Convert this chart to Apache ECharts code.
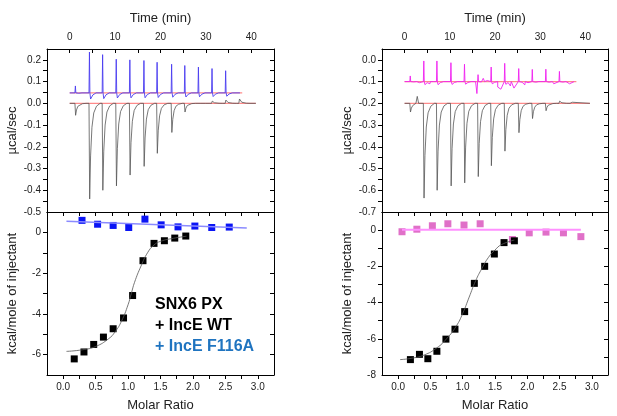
<!DOCTYPE html>
<html>
<head>
<meta charset="utf-8">
<script src="https://cdn.jsdelivr.net/npm/echarts@6/dist/echarts.min.js"></script>
<style>
  html, body { margin: 0; padding: 0; background: #fff; }
  #chart { width: 617px; height: 416px; }
</style>
</head>
<body>
<div id="chart"></div>
<script>
// ---- tick labels ----
const timeTicks = [0, 10, 20, 30, 40]
const timeMinor = [0, 5, 10, 15, 20, 25, 30, 35, 40]
const ratioTicks = [0, 0.5, 1, 1.5, 2, 2.5, 3]
const ratioMinor = [0, 0.25, 0.5, 0.75, 1, 1.25, 1.5, 1.75, 2, 2.25, 2.5, 2.75, 3]
const rawTicksL = [-0.5, -0.4, -0.3, -0.2, -0.1, 0, 0.1, 0.2]
const rawMinorL = [-0.45, -0.4, -0.35, -0.3, -0.25, -0.2, -0.15, -0.1, -0.05, 0, 0.05, 0.1, 0.15, 0.2]
const rawTicksR = [-0.7, -0.6, -0.5, -0.4, -0.3, -0.2, -0.1, 0]
const rawMinorR = [-0.65, -0.6, -0.55, -0.5, -0.45, -0.4, -0.35, -0.3, -0.25, -0.2, -0.15, -0.1, -0.05, 0]
const heatTicksL = [-6, -4, -2, 0]
const heatMinorL = [-6, -5, -4, -3, -2, -1, 0]
const heatTicksR = [-8, -6, -4, -2, 0]
const heatMinorR = [-7, -6, -5, -4, -3, -2, -1, 0]

// ---- left: raw thermograms (injection time, peak µcal/sec) ----
const injTimesL = [1.2, 4.3, 7.2, 10.2, 13.2, 16.3, 19.2, 22.4, 25.3, 28.3, 31.3, 34.3, 37.3]
const wtPeaksL = [-0.055, -0.44, -0.40, -0.38, -0.33, -0.29, -0.23, -0.134, -0.04, 0.0, 0.01, 0.015, 0.02]
const mutPeaksL = [0.08, 0.236, 0.224, 0.203, 0.2, 0.197, 0.189, 0.18, 0.174, 0.167, 0.16, 0.15]
const wtBaseL = 0
const mutBaseL = 0.048

// ---- right: raw thermograms ----
const injTimesR = [1.2, 4.2, 7.1, 10.2, 13.2, 16.2, 19.1, 22.1, 25.2, 28.2, 31.2, 34.2]
const wtPeaksR = [-0.24, -0.636, -0.6, -0.58, -0.566, -0.537, -0.487, -0.42, -0.335, -0.27, -0.234, -0.19]
const mutPeaksR = [-0.074, -0.005, -0.005, -0.013, -0.02, -0.068, -0.033, -0.016, -0.04, -0.044, -0.043, -0.053]
const wtBaseR = -0.2
const mutBaseR = -0.1
const wtBumpsR = [[2.5, -0.2], [2.8, -0.168], [3.1, -0.2], [36.9, -0.2], [37.1, -0.195], [37.4, -0.2]]
const mutWobbleR = [[2.4, -0.11], [3.3, -0.105], [5.6, -0.11], [6.4, -0.1], [15.7, -0.1], [16.0, -0.155],
  [17.4, -0.085], [18.3, -0.095], [20.6, -0.125], [21.3, -0.135], [23.4, -0.12], [24.2, -0.13],
  [26.6, -0.115], [27.3, -0.105], [33.0, -0.11], [36.5, -0.11]]

// ---- integrated heats (molar ratio, kcal/mol) ----
const wtRatioL = [0.17, 0.32, 0.47, 0.62, 0.77, 0.93, 1.07, 1.23, 1.40, 1.56, 1.72, 1.89]
const wtHeatL = [-6.21, -5.87, -5.5, -5.14, -4.73, -4.2, -3.1, -1.39, -0.54, -0.41, -0.28, -0.18]
const mutRatioL = [0.29, 0.53, 0.77, 1.01, 1.26, 1.51, 1.77, 2.03, 2.29, 2.56]
const mutHeatL = [0.59, 0.40, 0.34, 0.24, 0.65, 0.37, 0.27, 0.31, 0.24, 0.26]
const wtFitL = [[0.05, -5.84], [0.3, -5.76], [0.5, -5.6], [0.7, -5.22], [0.8, -4.88], [0.9, -4.35],
  [1.0, -3.55], [1.05, -3.0], [1.1, -2.45], [1.2, -1.65], [1.3, -1.0], [1.4, -0.62], [1.5, -0.44],
  [1.7, -0.29], [1.9, -0.19]]
const mutFitL = [[0.05, 0.54], [2.83, 0.22]]

const wtRatioR = [0.19, 0.33, 0.46, 0.6, 0.74, 0.88, 1.03, 1.18, 1.34, 1.49, 1.64, 1.80]
const wtHeatR = [-7.15, -6.86, -7.1, -6.69, -6.02, -5.47, -4.5, -2.94, -2.0, -1.32, -0.69, -0.59]
const mutRatioR = [0.06, 0.29, 0.53, 0.77, 1.02, 1.27, 1.77, 2.03, 2.29, 2.56, 2.83]
const mutHeatR = [-0.09, 0.05, 0.24, 0.35, 0.28, 0.35, -0.52, -0.15, -0.11, -0.15, -0.36]
const wtFitR = [[0.03, -7.15], [0.2, -7.08], [0.4, -6.9], [0.6, -6.5], [0.75, -6.0], [0.9, -5.3],
  [1.0, -4.6], [1.1, -3.7], [1.2, -2.8], [1.3, -2.1], [1.4, -1.5], [1.5, -1.1], [1.6, -0.8], [1.8, -0.55]]
const mutFitR = [[0.06, 0.02], [2.83, 0.02]]

// spike outline, relative time and fraction of peak height
const dipShape = [[-0.05, 0], [0.1, 1], [0.3, 0.55], [0.6, 0.25], [1.0, 0.1], [1.6, 0.03], [2.4, 0]]
const spikeShape = [[-0.05, 0], [0.05, 1], [0.15, 0], [0.3, -0.15], [0.8, -0.05], [1.5, 0]]

function trace(start, end, base, times, peaks, shape, extra) {
  const pts = [[start, base]]
  times.forEach((t, i) => {
    shape.forEach(([dt, f]) => pts.push([t + dt, base + (peaks[i] - base) * f]))
  })
  if (extra) extra.forEach(p => pts.push(p))
  pts.push([end, base])
  return pts.sort((a, b) => a[0] - b[0])
}

const font = 'Liberation Sans'
const txt = '#222'
const axisLine = { show: true, onZero: false, lineStyle: { color: '#000', width: 1 } }

function mainX(grid, pos, min, max, labels, ticks, fmt, name, gap, inside) {
  return {
    type: 'value', gridIndex: grid, position: pos, min, max,
    name, nameLocation: 'middle', nameGap: gap,
    nameTextStyle: { fontFamily: font, fontSize: 13, color: txt },
    axisLine,
    axisTick: { customValues: ticks, inside: !!inside, length: 4, lineStyle: { color: '#000' } },
    axisLabel: { customValues: labels, formatter: fmt, fontFamily: font, fontSize: 10, color: txt, margin: 7 },
    splitLine: { show: false }
  }
}
function mirrorX(grid, pos, min, max, ticks) {
  return {
    type: 'value', gridIndex: grid, position: pos, min, max,
    axisLine,
    axisTick: { show: !!ticks, customValues: ticks || [], inside: true, length: 4, lineStyle: { color: '#000' } },
    axisLabel: { show: false }, splitLine: { show: false }
  }
}
function mainY(grid, min, max, labels, ticks, fmt, name) {
  return {
    type: 'value', gridIndex: grid, position: 'left', min, max,
    name, nameLocation: 'middle', nameGap: 28, nameRotate: 90,
    nameTextStyle: { fontFamily: font, fontSize: 13, color: txt },
    axisLine,
    axisTick: { show: true, customValues: ticks, length: 4, lineStyle: { color: '#000' } },
    axisLabel: { customValues: labels, formatter: fmt, fontFamily: font, fontSize: 10, color: txt, margin: 6 },
    splitLine: { show: false }
  }
}
function mirrorY(grid, min, max, ticks) {
  return {
    type: 'value', gridIndex: grid, position: 'right', min, max,
    axisLine,
    axisTick: { show: true, customValues: ticks, inside: true, length: 4, lineStyle: { color: '#000' } },
    axisLabel: { show: false }, splitLine: { show: false }
  }
}

const f1 = v => v.toFixed(1)
const f0 = v => String(Math.round(v))

function line(x, y, data, color, width, smooth) {
  return {
    type: 'line', xAxisIndex: x, yAxisIndex: y, data, showSymbol: false, symbol: 'none',
    smooth: !!smooth, lineStyle: { color, width }, animation: false, silent: true
  }
}
function squares(x, y, xs, ys, color) {
  return {
    type: 'scatter', xAxisIndex: x, yAxisIndex: y, symbol: 'rect', symbolSize: 7,
    data: xs.map((v, i) => [v, ys[i]]), itemStyle: { color, opacity: 1 }, animation: false, silent: true
  }
}

const myChart = echarts.init(document.getElementById('chart'), null, { renderer: 'canvas' })
myChart.setOption({
  backgroundColor: '#fff',
  animation: false,
  grid: [
    { left: 47, top: 49, width: 227, height: 163 },
    { left: 47, top: 212, width: 227, height: 163 },
    { left: 382, top: 49, width: 226, height: 163 },
    { left: 382, top: 212, width: 226, height: 163 }
  ],
  xAxis: [
    mainX(0, 'top', -5, 45, timeTicks, timeMinor, f0, 'Time (min)', 24, true),
    mirrorX(0, 'bottom', -5, 45, null),
    mainX(1, 'bottom', -0.25, 3.25, ratioTicks, ratioMinor, f1, 'Molar Ratio', 24),
    mirrorX(1, 'top', -0.25, 3.25, ratioMinor),
    mainX(2, 'top', -5, 45, timeTicks, timeMinor, f0, 'Time (min)', 24, true),
    mirrorX(2, 'bottom', -5, 45, null),
    mainX(3, 'bottom', -0.25, 3.25, ratioTicks, ratioMinor, f1, 'Molar Ratio', 24),
    mirrorX(3, 'top', -0.25, 3.25, ratioMinor)
  ],
  yAxis: [
    mainY(0, -0.5, 0.25, rawTicksL, rawMinorL, f1, 'µcal/sec'),
    mirrorY(0, -0.5, 0.25, rawMinorL),
    mainY(1, -7, 1, heatTicksL, heatMinorL, f0, 'kcal/mole of injectant'),
    mirrorY(1, -7, 1, heatMinorL),
    mainY(2, -0.7, 0.05, rawTicksR, rawMinorR, f1, 'µcal/sec'),
    mirrorY(2, -0.7, 0.05, rawMinorR),
    mainY(3, -8, 1, heatTicksR, heatMinorR, f0, 'kcal/mole of injectant'),
    mirrorY(3, -8, 1, heatMinorR)
  ],
  series: [
    // left raw
    line(0, 0, [[0, wtBaseL], [41, wtBaseL]], '#ff8a8a', 1.2),
    line(0, 0, [[0, mutBaseL], [38, mutBaseL]], '#ff8a8a', 1.2),
    line(0, 0, trace(0, 41, wtBaseL, injTimesL, wtPeaksL, dipShape), '#555', 0.8),
    line(0, 0, trace(0, 37.5, mutBaseL, injTimesL.slice(0, 12), mutPeaksL, spikeShape), '#4a3cf0', 0.9),
    // left heats
    line(2, 2, mutFitL, '#8a8aff', 1.5),
    line(2, 2, wtFitL, '#555', 0.8, true),
    squares(2, 2, mutRatioL, mutHeatL, '#0a14f5'),
    squares(2, 2, wtRatioL, wtHeatL, '#000'),
    // right raw
    line(4, 4, [[0, wtBaseR], [41, wtBaseR]], '#ff8a8a', 1.2),
    line(4, 4, [[0, mutBaseR], [38, mutBaseR]], '#ff8a8a', 1.2),
    line(4, 4, trace(0, 41, wtBaseR, injTimesR, wtPeaksR, dipShape, wtBumpsR), '#555', 0.8),
    line(4, 4, trace(0, 37.5, mutBaseR, injTimesR, mutPeaksR, spikeShape, mutWobbleR), '#f020f0', 0.9),
    // right heats
    line(6, 6, mutFitR, '#ff90ff', 2),
    line(6, 6, wtFitR, '#555', 0.8, true),
    squares(6, 6, mutRatioR, mutHeatR, '#e070c8'),
    squares(6, 6, wtRatioR, wtHeatR, '#000')
  ],
  graphic: [
    { type: 'text', left: 155, top: 297, style: { text: 'SNX6 PX', font: 'bold 16px "Liberation Sans"', fill: '#000' } },
    { type: 'text', left: 155, top: 318, style: { text: '+ IncE WT', font: 'bold 16px "Liberation Sans"', fill: '#000' } },
    { type: 'text', left: 155, top: 339, style: { text: '+ IncE F116A', font: 'bold 16px "Liberation Sans"', fill: '#1f74c0' } }
  ]
})
</script>
</body>
</html>
